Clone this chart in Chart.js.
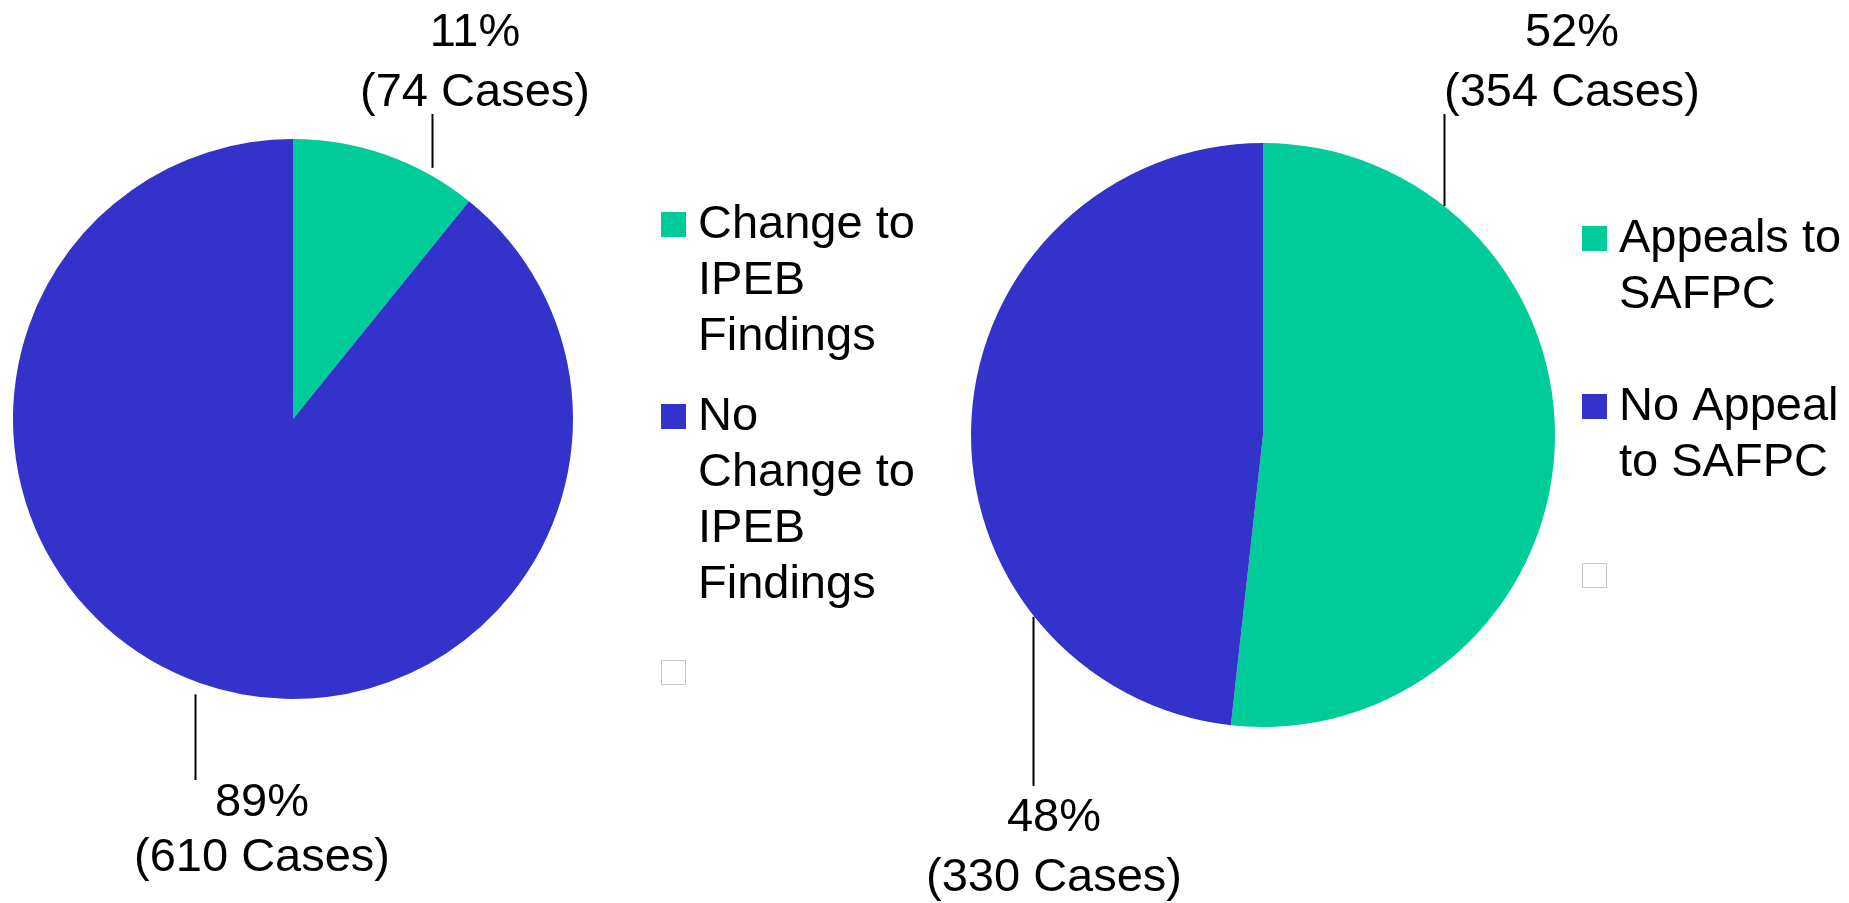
<!DOCTYPE html>
<html>
<head>
<meta charset="utf-8">
<script src="https://cdn.jsdelivr.net/npm/chart.js@4/dist/chart.umd.min.js"></script>
<style>
  html, body { margin: 0; padding: 0; background: #fff; overflow: hidden; }
  .box { position: absolute; top: 0; height: 903px; }
  #leftBox { left: 0; width: 925px; }
  #rightBox { left: 925px; width: 924px; }
</style>
</head>
<body>
<div class="box" id="leftBox"><canvas id="ipebChart" width="925" height="903"></canvas></div>
<div class="box" id="rightBox"><canvas id="appealChart" width="924" height="903"></canvas></div>
<script>
// ===== data =====
const ipebLabels = [['Change to', 'IPEB', 'Findings'], ['No', 'Change to', 'IPEB', 'Findings'], ['']];
const ipebCases = [74, 610, 0];

const appealLabels = [['Appeals to', 'SAFPC'], ['No Appeal', 'to SAFPC'], ['']];
const appealCases = [354, 330, 0];

const sliceColors = ['#00cc99', '#3333cc', '#ffffff'];

const FONT = '47px "Liberation Sans", Arial, sans-serif';
const LINE = 56;

// ===== callouts + legend drawn on the canvas =====
const piePlugin = {
  id: 'pieExtras',
  afterDraw(chart, args, opts) {
    const ctx = chart.ctx;
    const meta = chart.getDatasetMeta(0);
    const values = chart.data.datasets[0].data;
    const total = values.reduce((a, b) => a + b, 0);
    ctx.save();
    ctx.font = FONT;
    ctx.fillStyle = '#000';
    ctx.strokeStyle = '#000';
    ctx.lineWidth = 2;

    // callouts with leader lines, starting just outside the slice edge
    opts.callouts.forEach((c, i) => {
      const arc = meta.data[i];
      const a = arc.startAngle + c.at * (arc.endAngle - arc.startAngle);
      const x0 = Math.round(arc.x + Math.cos(a) * arc.outerRadius) + 0.5;
      const y0 = arc.y + Math.sin(a) * arc.outerRadius;
      const dir = c.tipY < y0 ? -1 : 1;
      ctx.beginPath();
      ctx.moveTo(x0, y0 + dir * c.gap);
      ctx.lineTo(x0, c.tipY);
      ctx.stroke();
      const pct = Math.round(values[i] / total * 100) + '%';
      ctx.textAlign = 'center';
      ctx.textBaseline = 'middle';
      ctx.fillText(pct, c.textX, c.textY);
      ctx.fillText('(' + values[i] + ' Cases)', c.textX, c.textY + c.lineGap);
    });

    // legend
    const lg = opts.legend;
    chart.data.labels.forEach((lines, i) => {
      const top = lg.tops[i];
      ctx.fillStyle = sliceColors[i];
      ctx.fillRect(lg.x, top, 25, 25);
      if (values[i] === 0) {
        ctx.strokeStyle = '#c8c8c8';
        ctx.lineWidth = 1;
        ctx.strokeRect(lg.x + 0.5, top + 0.5, 24, 24);
      }
      ctx.fillStyle = '#000';
      ctx.textAlign = 'left';
      ctx.textBaseline = 'alphabetic';
      lines.forEach((t, k) => ctx.fillText(t, lg.x + 37, top + 26 + k * LINE));
    });
    ctx.restore();
  }
};

function makePie(id, labels, values, padding, extras) {
  return new Chart(document.getElementById(id), {
    type: 'pie',
    data: {
      labels: labels,
      datasets: [{
        data: values,
        backgroundColor: sliceColors,
        borderWidth: 0,
        hoverOffset: 0
      }]
    },
    options: {
      responsive: false,
      animation: false,
      devicePixelRatio: 1,
      layout: { padding: padding },
      plugins: {
        legend: { display: false },
        tooltip: { enabled: false },
        pieExtras: extras
      }
    },
    plugins: [piePlugin]
  });
}

makePie('ipebChart', ipebLabels, ipebCases,
  { left: 13, right: 352, top: 139, bottom: 204 },
  {
    callouts: [
      { at: 0.763, gap: 8, tipY: 114, textX: 475, textY: 33, lineGap: 60 },
      { at: 0.503, gap: 13, tipY: 780, textX: 262, textY: 803, lineGap: 55 }
    ],
    legend: { x: 661, tops: [212, 404, 660] }
  });

makePie('appealChart', appealLabels, appealCases,
  { left: 46, right: 294, top: 143, bottom: 176 },
  {
    callouts: [
      { at: 0.206, gap: 0, tipY: 114, textX: 647, textY: 33, lineGap: 60 },
      { at: 0.263, gap: 2, tipY: 786, textX: 129, textY: 818, lineGap: 60 }
    ],
    legend: { x: 657, tops: [226, 394, 563] }
  });
</script>
</body>
</html>
